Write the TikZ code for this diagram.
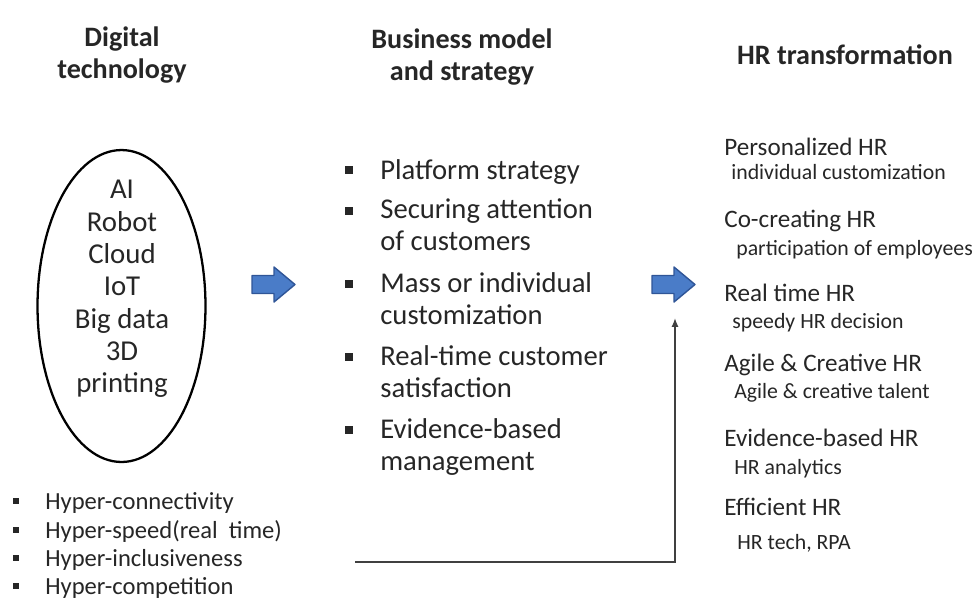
\documentclass[tikz,border=0pt]{standalone}
\usepackage{fontspec}
\setmainfont{Carlito}
\usetikzlibrary{shapes.geometric,arrows.meta}
\definecolor{arrowblue}{HTML}{4A7CC8}
\definecolor{arrowedge}{HTML}{2F5597}
\definecolor{textgray}{HTML}{262626}
\definecolor{linegray}{HTML}{404040}

\begin{document}
\begin{tikzpicture}[x=0.02cm,y=-0.02cm,
  txt/.style={inner sep=0pt,anchor=west,align=left,text=textgray,yshift=-2pt,
    execute at begin node=\strut,execute at end node=\strut},
  head/.style={txt,anchor=center,align=center,font=\fontsize{16}{18}\selectfont\bfseries},
  sqbullet/.style={fill=textgray,inner sep=0pt,minimum size=#1},
  blockarrow/.style={fill=arrowblue,draw=arrowedge,line width=0.8pt,line join=round}]
\useasboundingbox (0,0) rectangle (979,600);

% column heads
\node[head] (dig) at (122,54) {Digital\\technology};
\node[head] (bus) at (462,56) {Business model\\and strategy};
\node[head] (hrt) at (845,55) {HR transformation};

% digital technology
\node[draw=black,ellipse,line width=1.3pt,minimum width=3.36cm,minimum height=6.24cm] (tech) at (121.5,306) {};
\node[txt,anchor=center,align=center,font=\fontsize{16.4}{18.4}\selectfont] (techlist) at (122,288)
  {AI\\Robot\\Cloud\\IoT\\Big data\\3D\\printing};
\foreach \y/\t [count=\i] in {500/Hyper-connectivity, 529/Hyper-speed(real\ \ time), 557/Hyper-inclusiveness, 585/Hyper-competition} {
  \node[sqbullet=0.13cm] (hb\i) at (16,\y+1) {};
  \node[txt,font=\fontsize{14}{16}\selectfont] (hyp\i) at (45,\y) {\t};
}

% business model
\foreach \by/\cy/\t [count=\i] in {170/170/Platform strategy, 211/226/Securing attention\\of customers,
    284/300/Mass or individual\\customization, 357/373/Real-time customer\\satisfaction,
    430/446/Evidence-based\\management} {
  \node[sqbullet=0.15cm] (mb\i) at (349,\by) {};
  \node[txt,font=\fontsize{16.3}{18}\selectfont] (mid\i) at (380,\cy) {\t};
}

% HR transformation
\foreach \ty/\t/\sx/\sy/\s [count=\i] in {
    146/Personalized HR/731/171/individual customization,
    218/Co-creating HR/736/247/participation of employees,
    292/Real time HR/732/320/speedy HR decision,
    362/Agile \& Creative HR/734/390/Agile \& creative talent,
    437/Evidence-based HR/734/466/HR analytics,
    506/Efficient HR/737/541/{HR tech, RPA}} {
  \node[txt,font=\fontsize{14.3}{17}\selectfont] (hr\i) at (724,\ty) {\t};
  \node[txt,font=\fontsize{12.4}{15}\selectfont] (hrsub\i) at (\sx,\sy) {\s};
}

% block arrows
\foreach \x in {252,652}
  \draw[blockarrow] (\x,275.5) -- ++(22,0) -- ++(0,-8.5) -- ++(21,17.5) -- ++(-21,17.5) -- ++(0,-8.5) -- ++(-22,0) -- cycle;

% feedback line
\coordinate (loop) at (355,562);
\coordinate (hrin) at (675,318);
\draw[linegray,line width=0.9pt,-{Latex[length=5pt,width=4pt]}] (loop) -| (hrin);
\end{tikzpicture}
\end{document}
